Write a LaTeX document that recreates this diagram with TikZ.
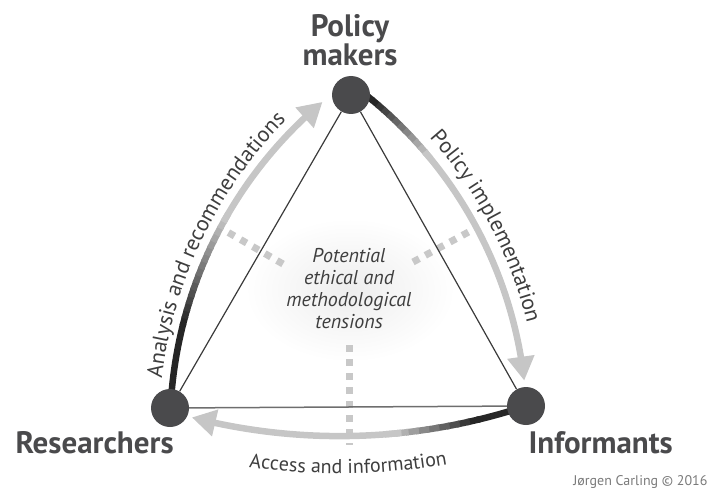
\documentclass[tikz,border=0pt]{standalone}
\usepackage{fontspec}
\setsansfont{PT Sans}
\usetikzlibrary{arrows.meta,bending,calc,decorations.text}

\definecolor{nodegray}{HTML}{4A4A4C}
\definecolor{arcdark}{HTML}{262626}
\definecolor{arclight}{HTML}{C6C6C6}
\definecolor{dotgray}{HTML}{C8C8C8}
\definecolor{linegray}{HTML}{3A3A3A}
\definecolor{basegray}{HTML}{6E6E6E}
\definecolor{textgray}{HTML}{3E3E3E}
\definecolor{creditgray}{HTML}{7A7A7A}

\tikzset{
  actor/.style={circle, fill=nodegray, minimum size=38pt, inner sep=0pt},
  side/.style={draw=linegray, line width=1.2pt},
  flowline/.style={line width=6.5pt},
  tensionline/.style={draw=dotgray, line width=7pt, dash pattern=on 7pt off 7pt},
  rolelabel/.style={font=\sffamily\bfseries\fontsize{31}{29}\selectfont, text=nodegray},
}

\begin{document}
\begin{tikzpicture}[x=1pt,y=1pt]
\useasboundingbox (0,0) rectangle (712,491);

% centres of the curved flows
\coordinate (lc) at (597,62);
\coordinate (rc) at (100,62);
\coordinate (bc) at (339.4,648.4);

\shade[inner color=black!7, outer color=white] (350,201) ellipse [x radius=105, y radius=72];

% tensions
\coordinate (tl1) at (283,227); \coordinate (tl2) at (224,261);
\coordinate (tr1) at (413,229); \coordinate (tr2) at (476,263);
\coordinate (tb1) at (349,146); \coordinate (tb2) at (349,46);
\draw[tensionline] (tl1) -- (tl2);
\draw[tensionline] (tr1) -- (tr2);
\draw[tensionline] (tb1) -- (tb2);

% analysis and recommendations
\draw[flowline, arcdark] ($(lc)+(177.2:427)$) arc[start angle=177.2, end angle=165.7, radius=427];
\foreach \k in {0,...,15} {
  \pgfmathsetmacro\ang{166-\k}
  \pgfmathtruncatemacro\pct{\k*100/15}
  \draw[flowline, arclight!\pct!arcdark] ($(lc)+(\ang:427)$) arc[start angle=\ang, end angle=\ang-1.3, radius=427];
}
\draw[flowline, arclight, -{Triangle[length=24pt,width=26pt]}] ($(lc)+(151:427)$) arc[start angle=151, end angle=130, radius=427];

% policy implementation
\draw[flowline, arcdark] ($(rc)+(53.1:427)$) arc[start angle=53.1, end angle=50.2, radius=427];
\foreach \k in {0,...,10} {
  \pgfmathsetmacro\ang{50.5-\k}
  \pgfmathtruncatemacro\pct{\k*10}
  \draw[flowline, arclight!\pct!arcdark] ($(rc)+(\ang:427)$) arc[start angle=\ang, end angle=\ang-1.3, radius=427];
}
\draw[flowline, arclight, -{Triangle[length=24pt,width=26pt]}] ($(rc)+(40.5:427)$) arc[start angle=40.5, end angle=6.5, radius=427];

% access and information
\draw[flowline, arcdark] ($(bc)+(288.3:593.5)$) arc[start angle=288.3, end angle=283.4, radius=593.5];
\foreach \k in {0,...,8} {
  \pgfmathsetmacro\ang{283.7-\k}
  \pgfmathtruncatemacro\pct{\k*100/8}
  \draw[flowline, arclight!\pct!arcdark] ($(bc)+(\ang:593.5)$) arc[start angle=\ang, end angle=\ang-1.3, radius=593.5];
}
\draw[flowline, arclight, -{Triangle[length=24pt,width=26pt]}] ($(bc)+(276:593.5)$) arc[start angle=276, end angle=255.6, radius=593.5];

\node[actor] (P) at (351,396) {};
\node[actor] (R) at (170,83) {};
\node[actor] (I) at (526,85) {};

\draw[side] (P) -- (R);
\draw[side] (P) -- (I);
\draw[side, draw=basegray, line width=1.5pt] (R) -- (I);

\node[rolelabel, align=center, anchor=base] (pm) at (350,425) {Policy\\makers};
\node[rolelabel, anchor=base west] (res) at (12,38) {Researchers};
\node[rolelabel, anchor=base west] (inf) at (525,38) {Informants};

\node[font=\sffamily\itshape\fontsize{20}{22}\selectfont, text=textgray, align=center] (ten) at (349,202)
  {Potential\\ethical and\\methodological\\tensions};

\path[decorate, decoration={text along path, text align=center, text color=textgray,
  text={|\sffamily\fontsize{22}{22}\selectfont|Analysis and recommendations}}]
  ($(lc)+(179:438)$) arc[start angle=179, end angle=129.6, radius=438];
\path[decorate, decoration={text along path, text align=center, text color=textgray,
  text={|\sffamily\fontsize{22}{22}\selectfont|Policy implementation}}]
  ($(rc)+(51.7:440)$) arc[start angle=51.7, end angle=3.7, radius=440];
\path[decorate, decoration={text along path, text align=center, text color=textgray,
  text={|\sffamily\fontsize{20}{20}\selectfont|Access and information}}]
  ($(bc)+(250.8:631)$) arc[start angle=250.8, end angle=290.8, radius=631];

\node[font=\sffamily\fontsize{14}{14}\selectfont, text=creditgray, anchor=base east] (credit) at (711,6) {Jørgen Carling © 2016};

\end{tikzpicture}
\end{document}
